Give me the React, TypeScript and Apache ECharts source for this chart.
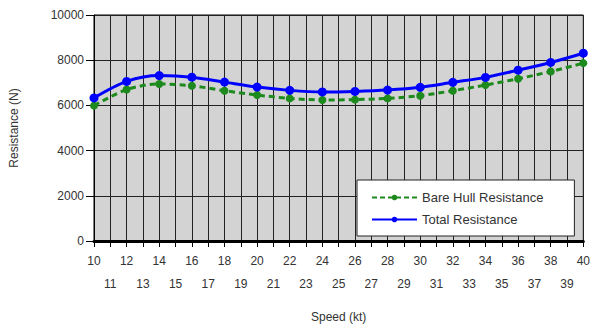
import React, { useEffect, useRef } from "react";
import * as echarts from "echarts";

const speeds = [10, 12, 14, 16, 18, 20, 22, 24, 26, 28, 30, 32, 34, 36, 38, 40];
const bareHull = [5990, 6700, 6950, 6870, 6650, 6460, 6310, 6240, 6255, 6310, 6430, 6650, 6900, 7180, 7500, 7870];
const total = [6330, 7060, 7320, 7250, 7030, 6810, 6665, 6595, 6620, 6680, 6800, 7020, 7240, 7560, 7900, 8310];
const yTicks = [0, 2000, 4000, 6000, 8000, 10000];

const FONT = "Liberation Sans, Arial, sans-serif";
const GREEN = "#1c8a1c";
const BLUE = "#0000ff";

export default function App() {
  const ref = useRef<HTMLDivElement>(null);
  useEffect(() => {
    const chart = echarts.init(ref.current!, undefined, { renderer: "svg" });
    chart.setOption({
      animation: false,
      backgroundColor: "#fff",
      textStyle: { fontFamily: FONT },
      grid: {
        left: 89, right: 7, top: 15, bottom: 86,
        show: true, backgroundColor: "#d3d3d3", borderColor: "#000", borderWidth: 1,
      },
      legend: {
        orient: "vertical",
        left: 357, top: 180,
        backgroundColor: "#fff",
        borderColor: "#222",
        borderWidth: 1,
        padding: [11, 31, 10, 14],
        itemWidth: 45, itemHeight: 7, itemGap: 9,
        textStyle: { fontFamily: FONT, fontSize: 13, color: "#333" },
        data: [
          { name: "Bare Hull Resistance", lineStyle: { width: 2, type: [5, 3], color: GREEN }, itemStyle: { color: GREEN } },
          { name: "Total Resistance", lineStyle: { width: 2, color: BLUE }, itemStyle: { color: BLUE } },
        ],
      },
      xAxis: {
        type: "value", min: 10, max: 40, interval: 1,
        name: "Speed (kt)", nameLocation: "middle", nameGap: 70,
        nameTextStyle: { fontFamily: FONT, fontSize: 12, color: "#333" },
        axisLine: { show: true, onZero: false, lineStyle: { color: "#000", width: 3 } },
        axisTick: { show: true, length: 6, lineStyle: { color: "#000" } },
        axisLabel: {
          margin: 8, fontSize: 12, color: "#333", fontFamily: FONT, lineHeight: 23,
          formatter: (v: number) => (v % 2 ? "\n" + v : String(v)),
        },
        splitLine: { show: true, lineStyle: { color: "#222", width: 1 } },
      },
      yAxis: {
        type: "value", min: 0, max: 10000, interval: 2000,
        name: "Resistance (N)", nameLocation: "middle", nameGap: 74,
        nameTextStyle: { fontFamily: FONT, fontSize: 12, color: "#333" },
        axisLine: { show: true, lineStyle: { color: "#000", width: 1 } },
        axisTick: { show: true, length: 8, lineStyle: { color: "#000" } },
        axisLabel: { margin: 10, fontSize: 12, color: "#333", fontFamily: FONT,
          formatter: (v: number) => (yTicks.includes(v) ? String(v) : "") },
        splitLine: { show: true, lineStyle: { color: "#222", width: 1 } },
      },
      series: [
        {
          name: "Bare Hull Resistance", type: "line", smooth: 0.3,
          data: speeds.map((s, i) => [s, bareHull[i]]),
          symbol: "circle", symbolSize: 8,
          itemStyle: { color: GREEN },
          lineStyle: { color: GREEN, width: 3, type: [6, 4] },
        },
        {
          name: "Total Resistance", type: "line", smooth: 0.3,
          data: speeds.map((s, i) => [s, total[i]]),
          symbol: "circle", symbolSize: 9,
          itemStyle: { color: BLUE },
          lineStyle: { color: BLUE, width: 3 },
        },
      ],
    });
    return () => chart.dispose();
  }, []);
  return <div ref={ref} style={{ width: 593, height: 328, position: "absolute", left: 0, top: 0 }} />;
}
